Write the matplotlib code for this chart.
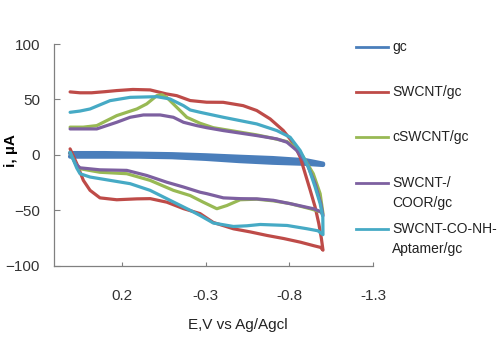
import numpy as np
import matplotlib.pyplot as plt
from matplotlib.lines import Line2D

plt.rcParams['font.family'] = ['Liberation Sans', 'DejaVu Sans']

# gc
gc_E = [0.508, 0.3, 0.1, -0.1, -0.3, -0.5, -0.7, -0.9, -1.0,
        -1.0, -0.9, -0.7, -0.5, -0.3, -0.1, 0.1, 0.3, 0.508]
gc_i = [-1.5, -1.5, -1.5, -2.0, -3.5, -5.5, -7.0, -8.0, -9.0,
        -8.0, -5.0, -3.0, -1.8, -0.5, 0.5, 1.0, 1.5, 1.5]

# SWCNT/gc
swcnt_E = [0.508, 0.468, 0.429, 0.389, 0.33, 0.23, 0.11, 0.03, -0.069, -0.168, -0.267,
           -0.346, -0.466, -0.566, -0.666, -0.766, -0.866, -0.946, -0.986, -1.0,
           -0.99, -0.975, -0.953, -0.924, -0.894, -0.864, -0.826, -0.763, -0.685,
           -0.605, -0.524, -0.405, -0.306, -0.208, -0.128, -0.066, 0.031, 0.134,
           0.23, 0.3, 0.38, 0.449, 0.508]
swcnt_i = [5.4, -8.0, -23.0, -32.0, -38.8, -40.5, -39.7, -39.5, -42.7, -48.5, -53.0,
           -61.0, -66.7, -69.5, -72.7, -75.5, -78.8, -82.0, -83.5, -86.0,
           -75.0, -62.0, -47.0, -32.0, -17.0, -2.0, 10.0, 22.0, 32.4,
           40.0, 44.4, 47.4, 47.5, 49.0, 53.4, 55.0, 58.6, 59.0,
           58.0, 57.0, 56.0, 56.0, 56.8]

# cSWCNT/gc
cswcnt_E = [0.508, 0.475, 0.449, 0.33, 0.17, 0.031, -0.108, -0.208, -0.286, -0.367,
            -0.427, -0.506, -0.605, -0.704, -0.804, -0.924, -0.986, -1.0,
            -0.983, -0.942, -0.883, -0.844, -0.785, -0.685, -0.605, -0.466,
            -0.346, -0.267, -0.188, -0.128, -0.068, -0.039, -0.009, 0.051,
            0.11, 0.23, 0.349, 0.43, 0.508]
cswcnt_i = [2.0, -8.0, -12.5, -15.7, -17.0, -23.0, -32.0, -36.7, -42.7, -48.6,
            -45.7, -40.5, -40.0, -41.5, -44.0, -48.6, -51.5, -53.0,
            -35.0, -17.0, -2.0, 6.0, 12.0, 15.5, 18.0, 21.5,
            24.5, 28.5, 33.9, 42.9, 51.9, 54.3, 53.4, 46.0,
            41.4, 35.4, 26.4, 25.0, 25.0]

# SWCNT-/COOR/gc
coor_E = [0.508, 0.475, 0.449, 0.33, 0.17, 0.051, -0.069, -0.168, -0.267, -0.307,
          -0.406, -0.506, -0.605, -0.704, -0.804, -0.943, -0.99, -1.0,
          -0.987, -0.953, -0.904, -0.844, -0.785, -0.725, -0.605, -0.406,
          -0.307, -0.247, -0.168, -0.108, -0.029, 0.071, 0.15, 0.23, 0.349,
          0.43, 0.508]
coor_i = [2.0, -8.0, -11.7, -13.5, -14.0, -18.6, -24.7, -29.0, -33.7, -35.0,
          -38.8, -39.5, -39.7, -41.0, -44.0, -48.6, -51.5, -55.0,
          -44.0, -26.0, -8.0, 3.9, 11.4, 14.4, 17.4, 21.9,
          24.5, 26.4, 29.4, 33.9, 36.0, 36.0, 33.9, 29.4, 23.4,
          23.4, 23.4]

# SWCNT-CO-NH-Aptamer/gc
apt_E = [0.508, 0.468, 0.449, 0.389, 0.27, 0.15, 0.031, -0.088, -0.208, -0.267,
         -0.346, -0.466, -0.546, -0.626, -0.786, -0.906, -0.97, -1.0,
         -0.999, -0.983, -0.953, -0.913, -0.864, -0.804, -0.725, -0.605,
         -0.406, -0.267, -0.208, -0.168, -0.088, -0.009, 0.15, 0.27, 0.389,
         0.45, 0.508]
apt_i = [2.4, -12.0, -17.0, -20.0, -23.0, -26.0, -32.0, -41.0, -50.0, -54.7,
         -61.5, -64.6, -64.0, -62.8, -63.7, -66.7, -68.5, -72.0,
         -56.0, -44.0, -29.0, -11.0, 3.9, 15.9, 21.9, 27.9,
         33.9, 38.4, 40.5, 44.4, 50.4, 52.5, 51.9, 48.9, 41.4,
         39.5, 38.4]

labels = ['gc', 'SWCNT/gc', 'cSWCNT/gc', 'SWCNT-/\nCOOR/gc', 'SWCNT-CO-NH-\nAptamer/gc']
colors = ['#4A7EBB', '#BE4B48', '#98B954', '#7D60A0', '#46AAC5']
x_ticks = [0.2, -0.3, -0.8, -1.3]
y_ticks = [-100, -50, 0, 50, 100]

fig = plt.figure(figsize=(5.0, 3.53), dpi=100)
ax = fig.add_axes([0.108, 0.2473, 0.6386, 0.628])

series = [(gc_E, gc_i), (swcnt_E, swcnt_i), (cswcnt_E, cswcnt_i), (coor_E, coor_i), (apt_E, apt_i)]
for idx, (E, i) in enumerate(series):
    lw = 3.2 if idx == 0 else 2.3
    ax.plot(E, i, color=colors[idx], linewidth=lw, solid_joinstyle='round', solid_capstyle='round')

ax.set_xlim(0.604, -1.3)
ax.set_ylim(-100, 100)
ax.set_xticks(x_ticks)
ax.set_xticklabels([str(t) for t in x_ticks])
ax.set_yticks(y_ticks)
ax.tick_params(axis='x', direction='in', length=3, color='#808080', pad=17, labelsize=11, labelcolor='#333333')
ax.tick_params(axis='y', direction='in', length=4, color='#808080', pad=10, labelsize=11, labelcolor='#333333')
for side in ['top', 'right']:
    ax.spines[side].set_visible(False)
for side in ['left', 'bottom']:
    ax.spines[side].set_color('#808080')
    ax.spines[side].set_linewidth(0.9)

ax.set_ylabel('i, µA', fontsize=11, fontweight='bold')
ax.yaxis.set_label_coords(-0.113, 0.52)
ax.set_xlabel('E,V vs Ag/Agcl', fontsize=11, color='#222222')
ax.xaxis.set_label_coords(0.576, -0.238)

# legend drawn by hand so the line sits on the first text row
leg_y = [46.7, 91.7, 136.7, 183.0, 229.0]
for idx, lab in enumerate(labels):
    y = 1 - leg_y[idx] / 353
    fig.add_artist(Line2D([355.7 / 500, 388 / 500], [y, y], color=colors[idx], linewidth=2.0))
    for k, row in enumerate(lab.split('\n')):
        fig.text(392 / 500, y - k * 20.5 / 353, row, fontsize=10, va='center', ha='left', color='#222222')

fig.savefig('out.png', dpi=100)
